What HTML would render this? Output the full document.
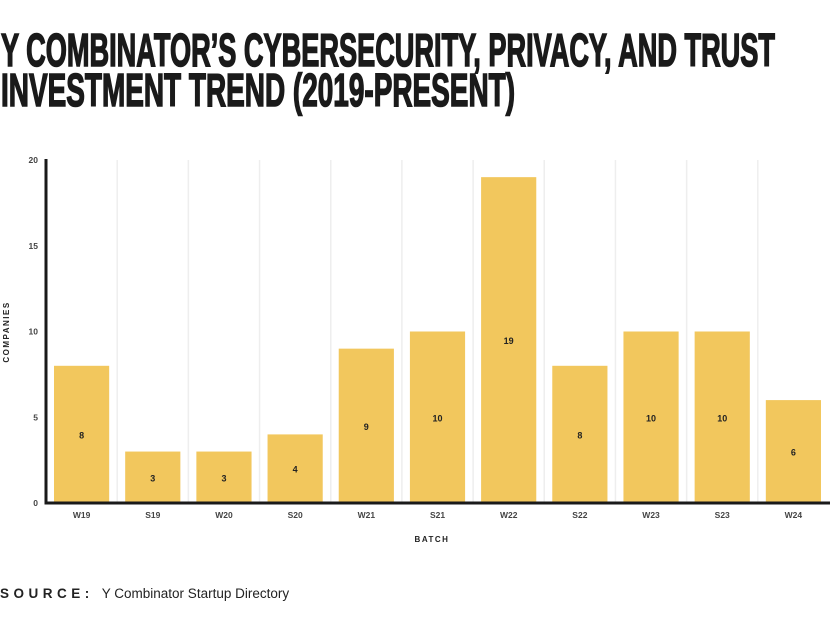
<!DOCTYPE html>
<html><head><meta charset="utf-8"><style>
html,body{margin:0;padding:0;background:#fff;}
svg{display:block;font-family:"Liberation Sans",sans-serif;}
</style></head><body>
<svg id="chart" width="830" height="624" xmlns="http://www.w3.org/2000/svg">
<g font-family="'Liberation Sans Narrow','Liberation Sans',sans-serif" font-weight="bold" font-size="46" fill="#1a1a1a" stroke="#1a1a1a" stroke-width="1.6">
<text x="1" y="66" textLength="774" lengthAdjust="spacingAndGlyphs">Y COMBINATOR’S CYBERSECURITY, PRIVACY, AND TRUST</text>
<text x="1" y="106" textLength="514" lengthAdjust="spacingAndGlyphs">INVESTMENT TREND (2019-PRESENT)</text>
</g>
<g id="grid"></g>
<g id="bars"></g>
<g id="axes"></g>
<text transform="translate(9,332) rotate(-90)" text-anchor="middle" font-size="8" font-weight="bold" letter-spacing="1.5" fill="#222">COMPANIES</text>
<text x="432" y="542" text-anchor="middle" font-size="8" font-weight="bold" letter-spacing="1.5" fill="#222">BATCH</text>
<text x="0" y="598" font-size="13.5" fill="#222"><tspan font-weight="bold" letter-spacing="4.5">SOURCE:</tspan><tspan dx="8">Y Combinator Startup Directory</tspan></text>
</svg>
<script>
const categories=["W19","S19","W20","S20","W21","S21","W22","S22","W23","S23","W24"];
const values=[8,3,3,4,9,10,19,8,10,10,6];
const yTicks=[0,5,10,15,20];
const NS="http://www.w3.org/2000/svg";
const x0=46,x1=829,yTop=160,yBot=503,yMax=20;
const band=(x1-x0)/categories.length;
const xs=i=>x0+i*band;
const ys=v=>yBot-(v/yMax)*(yBot-yTop);
function mk(tag,attrs,parent){const e=document.createElementNS(NS,tag);for(const k in attrs)e.setAttribute(k,attrs[k]);parent.appendChild(e);return e;}
const grid=document.getElementById('grid'),bars=document.getElementById('bars'),axes=document.getElementById('axes');
for(let i=1;i<categories.length;i++){
  const l=mk('line',{x1:xs(i),x2:xs(i),y1:yTop,y2:yBot,stroke:'#eeeeee','stroke-width':1.5},grid);
  
  
}
categories.forEach((c,i)=>{
  const bx=xs(i)+8,bw=band-16;
  const r=mk('rect',{x:bx,y:ys(values[i]),width:bw,height:yBot-ys(values[i]),fill:'#f2c75d'},bars);
  
  
  const t=mk('text',{x:bx+bw/2,y:(ys(values[i])+yBot)/2+4,'text-anchor':'middle','font-size':9,'font-weight':'bold',fill:'#222'},bars);
  t.textContent=values[i];
  
  
  const xl=mk('text',{x:xs(i)+band/2,y:518,'text-anchor':'middle','font-size':8.5,'font-weight':'bold',fill:'#444'},axes);
  xl.textContent=c;
  
  
});
yTicks.forEach(v=>{
  const t=mk('text',{x:38,y:ys(v)+3,'text-anchor':'end','font-size':8.5,'font-weight':'bold',fill:'#444'},axes);
  t.textContent=v;
  
  
});
const ya=mk('line',{x1:x0,x2:x0,y1:yTop-1,y2:yBot+1.5,stroke:'#1a1a1a','stroke-width':3},axes);


const xa=mk('line',{x1:x0-1.5,x2:x1+1,y1:yBot,y2:yBot,stroke:'#1a1a1a','stroke-width':3},axes);


</script>
</body></html>
